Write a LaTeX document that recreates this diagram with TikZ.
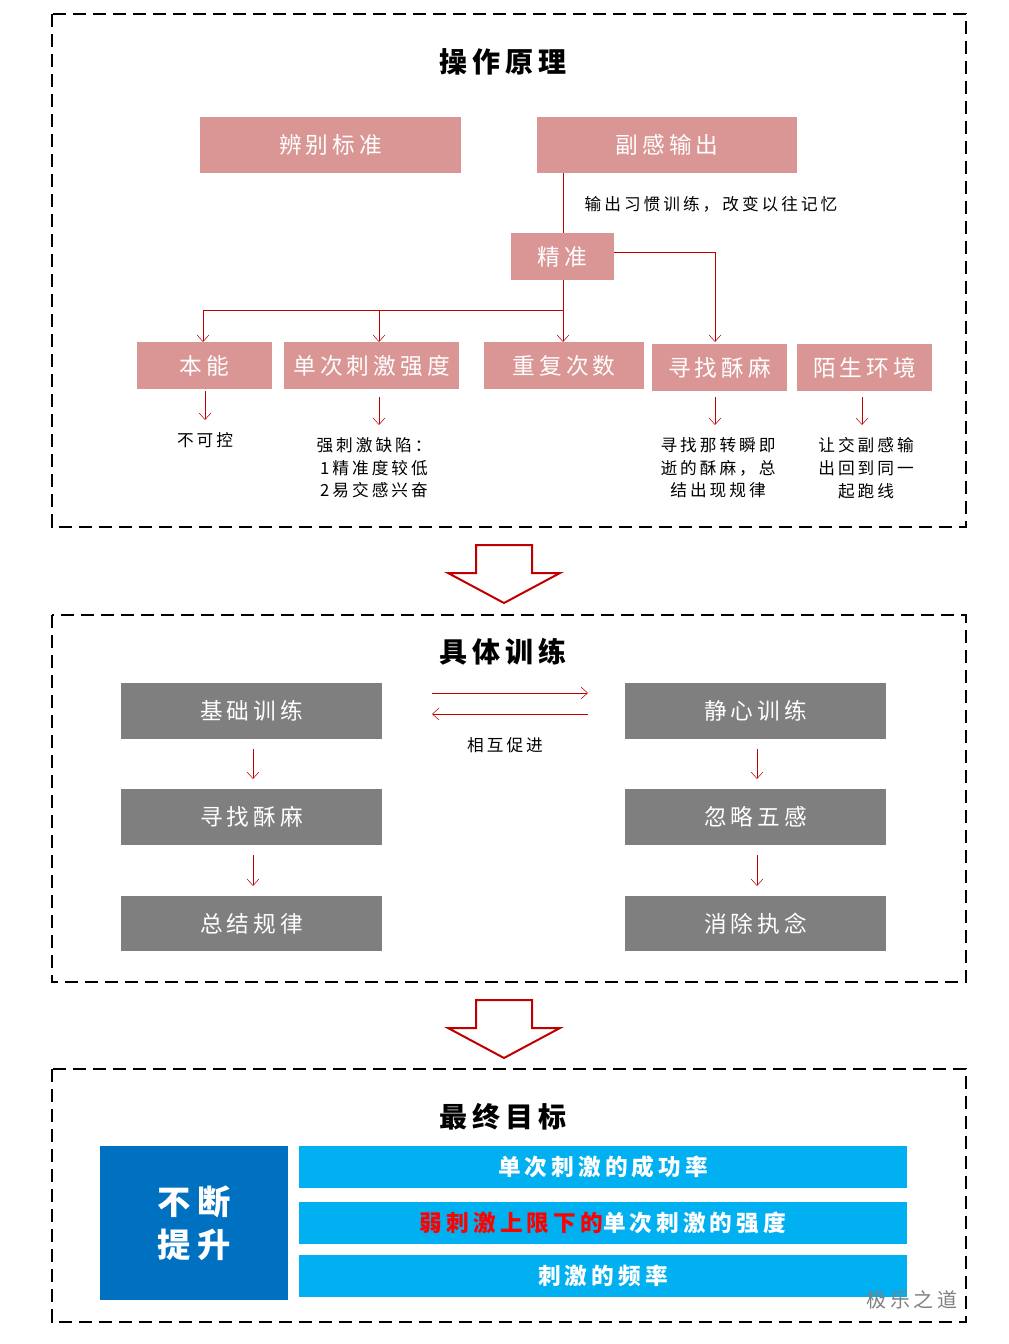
\documentclass[tikz,border=0pt]{standalone}
\usepackage{fontspec}
\setmainfont{Noto Sans CJK SC}[LetterSpace=18]
\usetikzlibrary{positioning,arrows.meta}
\definecolor{pinkbox}{HTML}{D99694}
\definecolor{graybox}{HTML}{7F7F7F}
\definecolor{darkblue}{HTML}{0070C0}
\definecolor{lightblue}{HTML}{00B0F0}
\definecolor{arrowred}{HTML}{C00000}
\begin{document}
\begin{tikzpicture}[x=0.75pt,y=-0.75pt,>={Straight Barb[length=5pt,width=9pt]},
  frame/.style={draw,line width=2pt,dash pattern=on 10pt off 5pt},
  title/.style={font=\bfseries\fontsize{21}{24}\selectfont},
  pink/.style={fill=pinkbox,text=white,font=\fontsize{17}{20}\selectfont},
  grey/.style={fill=graybox,text=white,font=\fontsize{17}{20}\selectfont},
  lblue/.style={fill=lightblue,text=white,font=\bfseries\fontsize{17}{20}\selectfont},
  note/.style={font=\fontsize{12.5}{17}\selectfont,align=center},
  red/.style={draw=arrowred,->}]
\useasboundingbox (0,0) rectangle (1008,1344);
% frames
\draw[frame] (52,14) rectangle (966,527);
\draw[frame] (52,615) rectangle (966,982);
\draw[frame] (52,1069) rectangle (966,1322);
% part 1
\node[title] (t1) at (503,62) {操作原理};
\path[pink] (200,117) rectangle node (bb) {辨别标准} (461,173);
\path[pink] (537,117) rectangle node (fg) {副感输出} (797,173);
\path[pink] (511,233) rectangle node (jz) {精准} (614,280);
\node[note,anchor=west] (hint) at (580,204) {输出习惯训练，改变以往记忆};
\path[pink] (137,342) rectangle node (bn) {本能} (272,389);
\path[pink] (284,342) rectangle node (dc) {单次刺激强度} (459,389);
\path[pink] (484,342) rectangle node (cf) {重复次数} (644,389);
\path[pink] (652,344) rectangle node (xz) {寻找酥麻} (787,391);
\path[pink] (797,344) rectangle node (ms) {陌生环境} (932,391);
\coordinate (fork) at (563,310);
\draw[arrowred] (563,173) -- (563,233);
\draw[arrowred] (563,280) -- (fork) -- (203,310);
\draw[red] (203,310) -- (203,342);
\draw[red] (379,310) -- (379,342);
\draw[red] (fork) -- (563,342);
\draw[red] (614,252) -| (715,342);
\node[note] (n1) at (205,440) {不可控};
\node[note] (n2) at (374,468) {强刺激缺陷：\\1精准度较低\\2易交感兴奋};
\node[note] (n3) at (718,468) {寻找那转瞬即\\逝的酥麻，总\\结出现规律};
\node[note] (n4) at (866,468) {让交副感输\\出回到同一\\起跑线};
\draw[red] (205,391) -- (205,420);
\draw[red] (379,397) -- (379,425);
\draw[red] (715,397) -- (715,425);
\draw[red] (862,397) -- (862,425);
% hollow arrows
\foreach \y in {545,1000}
  \draw[arrowred,line width=1.5pt,fill=white] (476,\y) -- (532,\y) -- (532,\y+28) -- (560,\y+28)
    -- (504,\y+58) -- (448,\y+28) -- (476,\y+28) -- cycle;
% part 2
\node[title] (t2) at (503,652) {具体训练};
\path[grey] (121,683) rectangle node (jc) {基础训练} (382,739);
\path[grey] (121,789) rectangle node (xs) {寻找酥麻} (382,845);
\path[grey] (121,896) rectangle node (zj) {总结规律} (382,951);
\path[grey] (625,683) rectangle node (jx) {静心训练} (886,739);
\path[grey] (625,789) rectangle node (hl) {忽略五感} (886,845);
\path[grey] (625,896) rectangle node (xc) {消除执念} (886,951);
\foreach \x in {253,757} {
  \draw[red] (\x,749) -- (\x,779);
  \draw[red] (\x,855) -- (\x,886);
}
\draw[red] (432,693) -- (588,693);
\draw[red] (588,714) -- (432,714);
\node[note] (hx) at (505,745) {相互促进};
% part 3
\node[title] (t3) at (503,1117) {最终目标};
\path[fill=darkblue] (100,1146) rectangle node[text=white,align=center,font=\bfseries\fontsize{25}{32}\selectfont] (ts) {不断\\提升} (288,1300);
\path[lblue] (299,1146) rectangle node (g1) {单次刺激的成功率} (907,1188);
\path[lblue] (299,1202) rectangle node (g2) {\textcolor{red}{弱刺激上限下的}单次刺激的强度} (907,1244);
\path[lblue] (299,1255) rectangle node (g3) {刺激的频率} (907,1297);
\node[text=gray,font=\fontsize{15}{18}\selectfont] (wm) at (912,1300) {极乐之道};
\end{tikzpicture}
\end{document}
